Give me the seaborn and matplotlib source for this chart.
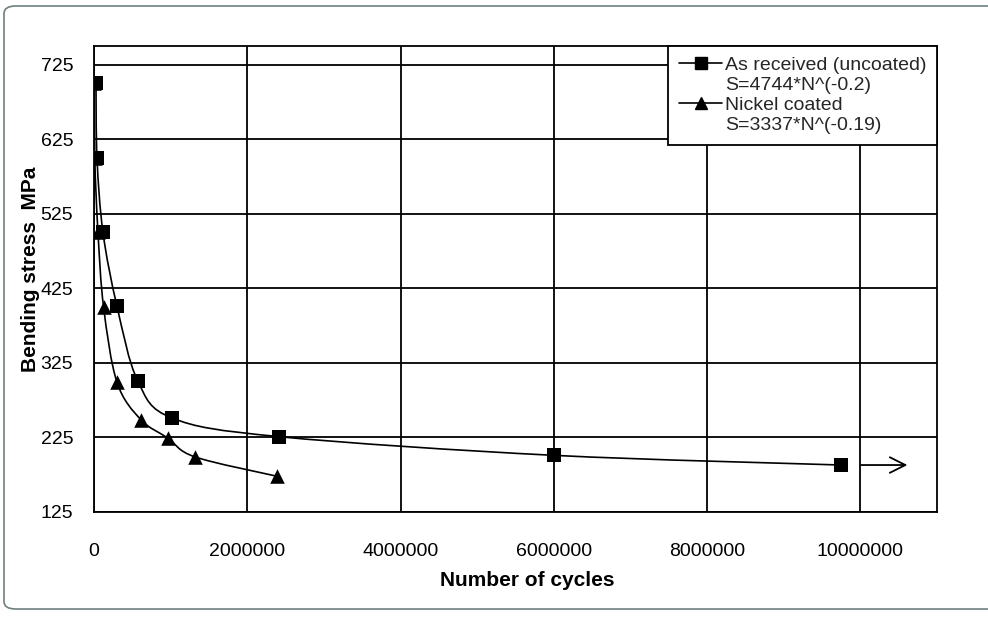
import numpy as np
import pandas as pd
import matplotlib
matplotlib.use("Agg")
import matplotlib.pyplot as plt
from matplotlib.path import Path
from matplotlib.patches import PathPatch, FancyBboxPatch
from matplotlib.lines import Line2D
import seaborn as sns

# data
cycles_uncoated = [26000, 39000, 117000, 300000, 570000, 1020000, 2420000, 6000000, 9750000]
stress_uncoated = [700, 600, 500, 401, 301, 251, 226, 201, 188]

cycles_coated = [5000, 10000, 52000, 125000, 300000, 610000, 965000, 1315000, 2385000]
stress_coated = [700, 600, 500, 400, 299, 249, 224, 199, 173]

label_uncoated = ["As received (uncoated)", "S=4744*N^(-0.2)"]
label_coated = ["Nickel coated", "S=3337*N^(-0.19)"]

y_ticks = [125, 225, 325, 425, 525, 625, 725]
x_ticks = [0, 2000000, 4000000, 6000000, 8000000, 10000000]

df_u = pd.DataFrame({"cycles": cycles_uncoated, "stress": stress_uncoated})
df_c = pd.DataFrame({"cycles": cycles_coated, "stress": stress_coated})

sns.set_theme(style="white")
plt.rcParams['font.family'] = ['Liberation Sans', 'DejaVu Sans']

fig = plt.figure(figsize=(9.88, 6.17), dpi=100)
ax = fig.add_axes([94 / 988, 1 - 512 / 617, 843 / 988, 466 / 617])


def smooth_path(xs, ys):
    # excel-like smoothed line (catmull-rom turned into bezier segments)
    p = np.column_stack([xs, ys]).astype(float)
    n = len(p)
    verts = [p[0]]
    codes = [Path.MOVETO]
    for i in range(n - 1):
        p0 = p[i - 1] if i > 0 else p[i]
        p3 = p[i + 2] if i + 2 < n else p[i + 1]
        c1 = p[i] + (p[i + 1] - p0) / 6.0
        c2 = p[i + 1] - (p3 - p[i]) / 6.0
        verts += [c1, c2, p[i + 1]]
        codes += [Path.CURVE4] * 3
    return Path(verts, codes)


for d in (df_u, df_c):
    ax.add_patch(PathPatch(smooth_path(d["cycles"], d["stress"]), fill=False,
                           edgecolor="black", lw=1.2, zorder=3))

sns.scatterplot(data=df_c, x="cycles", y="stress", marker="^", color="black",
                s=110, edgecolor="black", linewidth=0, ax=ax, zorder=4)
sns.scatterplot(data=df_u, x="cycles", y="stress", marker="s", color="black",
                s=95, edgecolor="black", linewidth=0, ax=ax, zorder=5)

# arrow after the run-out point
ax.annotate("", xy=(10650000, stress_uncoated[-1]), xytext=(9970000, stress_uncoated[-1]),
            arrowprops=dict(arrowstyle="->", color="black", lw=1.3, mutation_scale=28),
            zorder=5)

ax.set_xlim(0, 11000000)
ax.set_ylim(125, 750)
ax.set_xticks(x_ticks)
ax.set_yticks(y_ticks)
ax.set_xticklabels([str(v) for v in x_ticks])
ax.set_yticklabels([str(v) for v in y_ticks])
ax.tick_params(axis="both", length=0, labelsize=14, colors="black")
ax.tick_params(axis="x", pad=22)
ax.tick_params(axis="y", pad=15)
ax.grid(True, color="black", lw=1.3)
ax.set_axisbelow(True)
for s in ax.spines.values():
    s.set_color("black")
    s.set_linewidth(1.3)

ax.set_xlabel("Number of cycles", fontsize=15, fontweight="bold", color="black")
ax.set_ylabel("Bending stress  MPa", fontsize=15, fontweight="bold", color="black")
ax.xaxis.set_label_coords(0.514, -0.126)
ax.yaxis.set_label_coords(-0.064, 0.52)

h_line = dict(color="black", lw=1.2, markersize=9)
handles = [Line2D([], [], marker="s", **h_line),
           Line2D([], [], color="none"),
           Line2D([], [], marker="^", **h_line),
           Line2D([], [], color="none")]
labels = label_uncoated + label_coated
leg = ax.legend(handles, labels, loc="upper right", fontsize=14, frameon=True,
                fancybox=False, edgecolor="black", framealpha=1, borderaxespad=0,
                handlelength=2.2, handletextpad=0.15, labelspacing=0.12,
                borderpad=0.55)
leg.get_frame().set_linewidth(1.3)
leg.set_zorder(10)

# light frame round the whole picture
fig.patches.append(FancyBboxPatch((4 / 988, 8 / 617), 1000 / 988, 603 / 617,
                                  boxstyle="round,pad=0,rounding_size=0.012",
                                  transform=fig.transFigure, fill=False,
                                  edgecolor="#6f7f80", lw=1.2))

fig.savefig("out.png", dpi=100)
